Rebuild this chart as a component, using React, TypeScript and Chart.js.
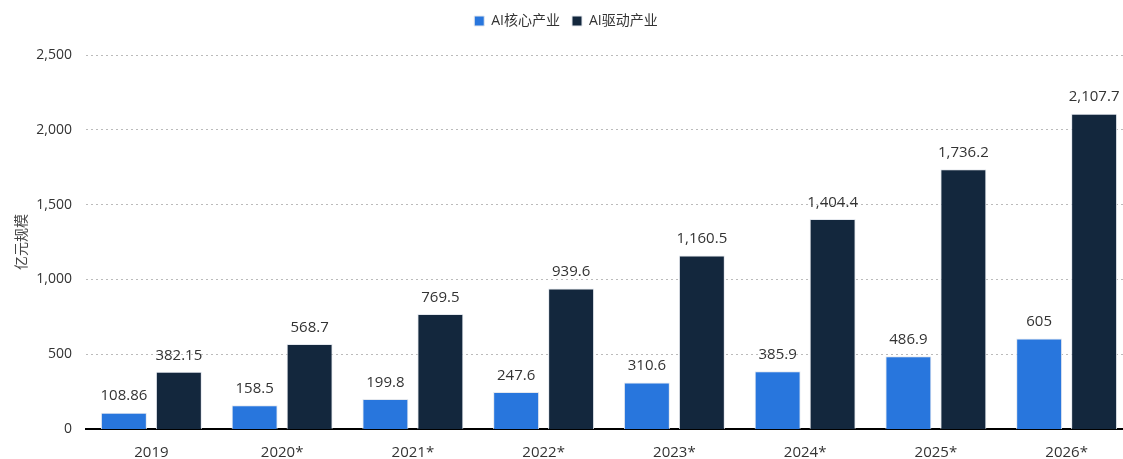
import React, { useEffect, useRef } from "react";
import { Chart, registerables } from "chart.js";

Chart.register(...registerables);

const categories = ["2019", "2020*", "2021*", "2022*", "2023*", "2024*", "2025*", "2026*"];
const coreValues = [108.86, 158.5, 199.8, 247.6, 310.6, 385.9, 486.9, 605];
const drivenValues = [382.15, 568.7, 769.5, 939.6, 1160.5, 1404.4, 1736.2, 2107.7];
const seriesNames = ["AI核心产业", "AI驱动产业"];
const yTitle = "亿元规模";

const FONT = "'Open Sans', 'Noto Sans CJK SC', sans-serif";

const valueLabels = {
  id: "valueLabels",
  afterDatasetsDraw(chart: any) {
    const ctx = chart.ctx;
    ctx.save();
    ctx.font = `15px ${FONT}`;
    ctx.fillStyle = "#333333";
    ctx.textAlign = "center";
    ctx.textBaseline = "bottom";
    chart.data.datasets.forEach((ds: any, i: number) => {
      const meta = chart.getDatasetMeta(i);
      meta.data.forEach((bar: any, j: number) => {
        const v = ds.data[j];
        const txt = v.toLocaleString("en-US", { maximumFractionDigits: 2 });
        ctx.fillText(txt, bar.x, bar.y - 9);
      });
    });
    ctx.restore();
  },
};

const legendGap = {
  id: "legendGap",
  beforeInit(chart: any) {
    const legend = chart.legend;
    if (!legend) return;
    const origFit = legend.fit;
    legend.fit = function () {
      origFit.call(this);
      this.height += 17;
    };
  },
};

export default function App() {
  const ref = useRef<HTMLCanvasElement>(null);
  useEffect(() => {
    document.body.style.margin = "0";
    document.body.style.overflow = "hidden";
    const chart = new Chart(ref.current!, {
      type: "bar",
      data: {
        labels: categories,
        datasets: [
          {
            label: seriesNames[0],
            data: coreValues,
            backgroundColor: "#2876dd",
            borderColor: "#e4e8ee",
            borderWidth: 1,
            categoryPercentage: 0.841,
            barPercentage: 0.836,
          },
          {
            label: seriesNames[1],
            data: drivenValues,
            backgroundColor: "#13273d",
            borderColor: "#e4e8ee",
            borderWidth: 1,
            categoryPercentage: 0.841,
            barPercentage: 0.836,
          },
        ],
      },
      plugins: [valueLabels, legendGap],
      options: {
        animation: false,
        responsive: false,
        maintainAspectRatio: false,
        layout: { padding: { top: 2, right: 0, bottom: 0, left: 0 } },
        plugins: {
          legend: {
            position: "top",
            align: "center",
            labels: {
              boxWidth: 10,
              boxHeight: 10,
              padding: 12,
              color: "#333333",
              font: { family: FONT, size: 14 },
            },
          },
          tooltip: { enabled: false },
        },
        scales: {
          x: {
            grid: { display: false },
            border: { display: true, color: "#000000", width: 2 },
            ticks: { color: "#333333", font: { family: FONT, size: 15 }, padding: 7 },
            afterFit(scale: any) {
              scale.height = 30;
            },
          },
          y: {
            min: 0,
            max: 2500,
            ticks: {
              stepSize: 500,
              color: "#333333",
              padding: 14,
              font: { family: FONT, size: 14 },
              callback: (v: any) => Number(v).toLocaleString("en-US"),
            },
            grid: {
              color: "#bbbbbb",
              drawTicks: false,
              lineWidth: (c: any) => (c.tick && c.tick.value === 0 ? 0 : 1),
            },
            border: { display: false, dash: [2, 3] },
            title: {
              display: true,
              text: yTitle,
              color: "#444444",
              font: { family: FONT, size: 14 },
              padding: { top: 14, bottom: 4 },
            },
            afterFit(scale: any) {
              scale.width = 86;
            },
          },
        },
      },
    });
    return () => chart.destroy();
  }, []);
  return (
    <div style={{ width: 1123, height: 459, overflow: "hidden" }}>
      <canvas ref={ref} width={1132} height={459} />
    </div>
  );
}
